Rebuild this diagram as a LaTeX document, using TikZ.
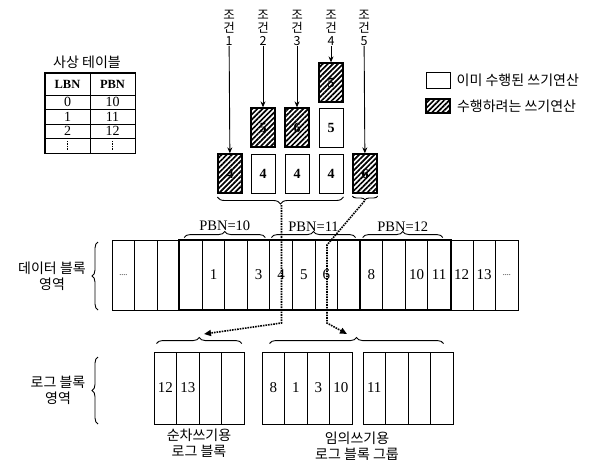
\documentclass[tikz,border=0pt]{standalone}
\usepackage{fontspec}
\setmainfont{Liberation Serif}
\newfontfamily\kr{Noto Sans CJK KR}
\usetikzlibrary{calc, positioning, arrows.meta, decorations.pathreplacing, patterns.meta}
\newcommand{\celldots}{{\fontsize{8}{8}\selectfont....}}

\begin{document}
\begin{tikzpicture}[x=1pt, y=-1pt,
    cell/.style={draw, line width=0.9pt, minimum width=22.56pt, minimum height=70pt,
      inner sep=0pt, font=\fontsize{15}{17}\selectfont},
    lcell/.style={cell, minimum width=22.6pt, minimum height=72pt},
    wbox/.style={draw, line width=1pt, minimum width=24pt, minimum height=39pt,
      inner sep=0pt, font=\fontsize{14}{16}\selectfont\bfseries},
    hbox/.style={wbox, line width=1.3pt, pattern={Lines[angle=45, distance=3.6pt, line width=1.7pt]}},
    tcell/.style={draw, line width=0.8pt, minimum width=45pt, minimum height=14.5pt,
      inner sep=0pt, font=\fontsize{14}{16}\selectfont},
    cond/.style={align=center, font=\kr\fontsize{12.5}{13}\selectfont, inner sep=0pt},
    krlabel/.style={align=center, font=\kr\fontsize{14}{16}\selectfont, inner sep=1pt},
    brc/.style={decorate, decoration={brace, amplitude=#1}, line width=0.9pt},
    brc/.default=6pt,
    pbn/.style={midway, above=6pt, font=\fontsize{14.5}{16}\selectfont, inner sep=0pt},
    feed/.style={line width=1.6pt, densely dotted, -{Triangle[length=7pt, width=6pt]}},
    wr/.style={line width=0.9pt, -{Stealth[length=6pt, width=5pt]}},
  ]
    \useasboundingbox (0,0) rectangle (597,463);

    % mapping table
    \node[krlabel] (ttl) at (87,62) {사상 테이블};
    \node[tcell, minimum height=22pt, font=\fontsize{12.5}{14}\selectfont\bfseries] (th1) at (67.5,84) {LBN};
    \node[tcell, minimum height=22pt, font=\fontsize{12.5}{14}\selectfont\bfseries] (th2) at (112.5,84) {PBN};
    \foreach \l/\p [count=\r] in {0/10, 1/11, 2/12, {}/{}} {
      \node[tcell] (tl\r) at (67.5,87.75+14.5*\r) {\l};
      \node[tcell] (tp\r) at (112.5,87.75+14.5*\r) {\p};
    }
    \draw[densely dotted, line width=0.6pt] ([yshift=-3pt]tl4.north) -- ([yshift=3pt]tl4.south);
    \draw[densely dotted, line width=0.6pt] ([yshift=-3pt]tp4.north) -- ([yshift=3pt]tp4.south);
    \draw[line width=1.2pt] (th1.north west) rectangle (tp4.south east);

    % legend
    \node[wbox, minimum width=24pt, minimum height=16pt] (lgw) at (438,80) {};
    \node[hbox, minimum width=24pt, minimum height=14pt] (lgh) at (438,106) {};
    \node[krlabel, right=5pt of lgw] {이미 수행된 쓰기연산};
    \node[krlabel, right=5pt of lgh] {수행하려는 쓰기연산};

    % write requests
    \node[hbox] (b1) at (230,173.5) {4};
    \node[wbox] (b2) at (263,173.5) {4};
    \node[wbox] (b3) at (297,173.5) {4};
    \node[wbox] (b4) at (331,173.5) {4};
    \node[hbox] (b5) at (365,173.5) {6};
    \node[hbox] (m2) at (263,127.5) {5};
    \node[hbox] (m3) at (297,127.5) {6};
    \node[wbox] (m4) at (331,127.5) {5};
    \node[hbox] (u4) at (331,82.5) {5};

    \foreach \i/\x in {1/229, 2/263, 3/297, 4/331, 5/364}
      \node[cond] (c\i) at (\x,28) {조\\건\\\i};
    \draw[wr] (c1) -- (b1);
    \draw[wr] (c2) -- (m2);
    \draw[wr] (c3) -- (m3);
    \draw[wr] (c4) -- (u4);
    \draw[wr] (c5) -- (b5);

    \draw[brc=7pt] (b4.south east |- 0,197) -- (b1.south west |- 0,197);
    \draw[brc=4pt] (b5.south east |- 0,196) -- (b5.south west |- 0,196);
    \coordinate (t1) at (281.5,205);
    \coordinate (t2) at (364.5,201);

    % data block area
    \foreach \t [count=\i from 0] in {\celldots, {}, {}, {}, 1, {}, 3, 4, 5, 6, {}, 8, {}, 10, 11, 12, 13, \celldots}
      \node[cell] (d\i) at (123.28+22.56*\i,275) {\t};
    \draw[line width=2pt] (d3.north west) rectangle (d14.south east);
    \draw[line width=2pt] (d11.north west) -- (d11.south west);

    \draw[brc] ([xshift=5pt,yshift=2pt]d3.north west) -- ([xshift=-5pt,yshift=2pt]d6.north east)
      node[pbn] (p10) {PBN=10};
    \draw[brc] ([xshift=2pt,yshift=2pt]d7.north west) -- ([xshift=-5pt,yshift=2pt]d10.north east)
      node[pbn] (p11) {PBN=11};
    \draw[brc] ([xshift=3pt,yshift=2pt]d11.north west) -- ([xshift=-8pt,yshift=2pt]d14.north east)
      node[pbn] (p12) {PBN=12};

    \node[krlabel] (dl) at (52,276) {데이터 블록\\영역};
    \draw[brc] (98,310) -- (98,242);

    % log block area
    \foreach \t [count=\i from 0] in {12, 13, {}, {}}
      \node[lcell] (s\i) at (165.3+22.6*\i,388) {\t};
    \foreach \t [count=\i from 0] in {8, 1, 3, 10}
      \node[lcell, minimum width=22.5pt] (r\i) at (273.25+22.5*\i,388) {\t};
    \foreach \t [count=\i from 4] in {11, {}, {}, {}}
      \node[lcell, minimum width=22.5pt] (r\i) at (284.25+22.5*\i,388) {\t};

    \draw[brc] ([xshift=3pt,yshift=8pt]s0.north west) -- ([xshift=-3pt,yshift=8pt]s3.north east);
    \draw[brc] ([xshift=8pt,yshift=8pt]r0.north west) -- ([xshift=-10pt,yshift=8pt]r7.north east);

    \node[krlabel] (sl) at (199,443) {순차쓰기용\\로그 블록};
    \node[krlabel] (rl) at (357,446) {임의쓰기용\\로그 블록 그룹};
    \node[krlabel] (ll) at (58,390) {로그 블록\\영역};
    \draw[brc] (98,424) -- (98,357);

    % redirections
    \coordinate (k1) at (281.5,323);
    \coordinate (e1) at (204,334);
    \coordinate (k2) at (327,245);
    \coordinate (k3) at (327,323);
    \coordinate (e2) at (347,334);
    \draw[feed] (t1) -- (k1) -- (e1);
    \draw[feed] (t2) -- (k2) -- (k3) -- (e2);
\end{tikzpicture}
\end{document}
